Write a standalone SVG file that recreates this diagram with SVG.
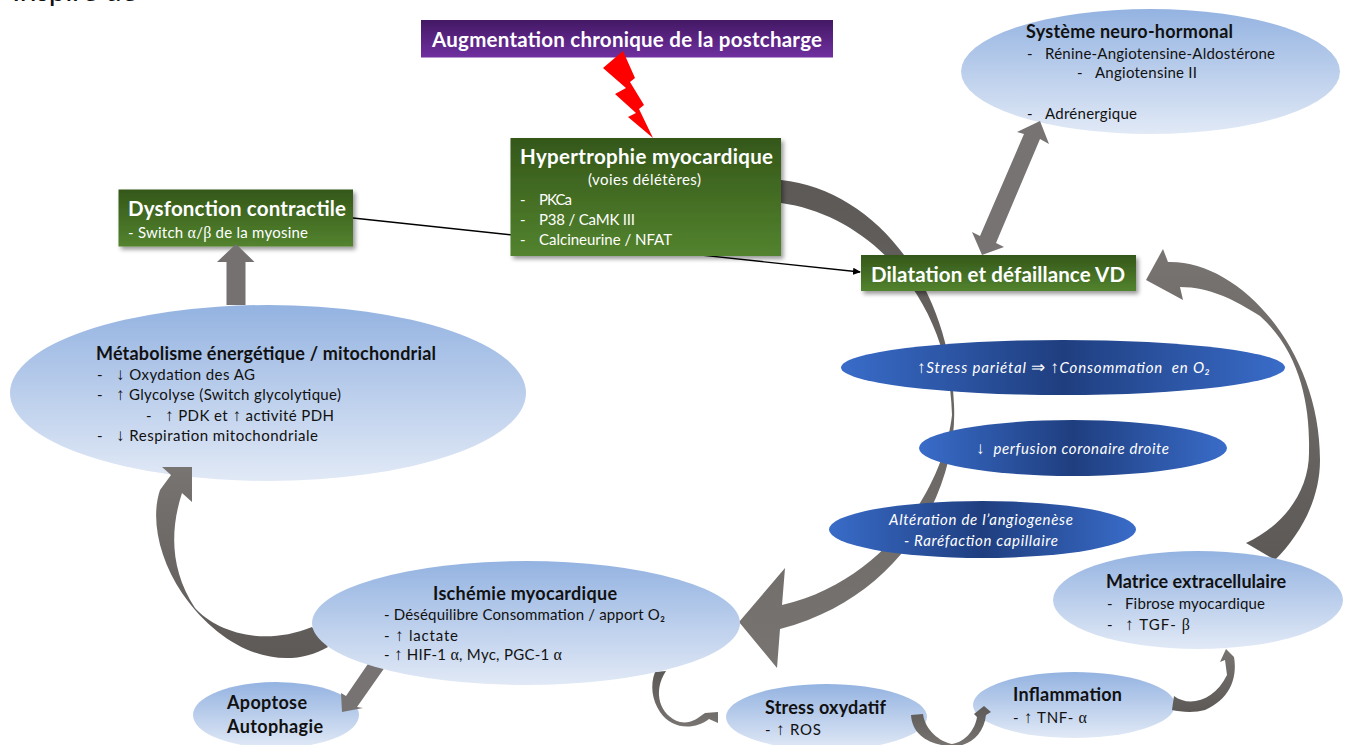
<svg xmlns="http://www.w3.org/2000/svg" width="1348" height="745" viewBox="0 0 1348 745">
<style>
text{font-family:Lato,"Open Sans","DejaVu Sans",sans-serif;font-size:15px;fill:#111;white-space:pre}
.w{fill:#fff}.t{font-weight:700;font-size:18px}.bt{font-weight:700;font-size:20.5px;fill:#fff}
.i{font-style:italic;fill:#fff}.s{font-family:"Liberation Serif",serif;font-size:16px}.a{font-family:"Liberation Serif",serif;font-size:17px;font-weight:400}
.ia{font-style:normal;fill:#fff}
.box{filter:url(#sh)}.grey{fill:url(#gy)}.greyup{fill:url(#gu)}
</style>
<defs>
<linearGradient id="lb" x1="0" y1="0" x2="0" y2="1"><stop offset="0" stop-color="#94b3e1"/><stop offset="1" stop-color="#e1e9f6"/></linearGradient>
<linearGradient id="db" x1="0" y1="0" x2="1" y2="0"><stop offset="0" stop-color="#396cc9"/><stop offset=".5" stop-color="#1f3e7f"/><stop offset="1" stop-color="#396cc9"/></linearGradient>
<linearGradient id="gn" x1="0" y1="0" x2="0" y2="1"><stop offset="0" stop-color="#345719"/><stop offset="1" stop-color="#53832e"/></linearGradient>
<linearGradient id="pu" x1="0" y1="0" x2="0" y2="1"><stop offset="0" stop-color="#431864"/><stop offset="1" stop-color="#7030a0"/></linearGradient>
<linearGradient id="gy" x1="0" y1="0" x2="0" y2="1"><stop offset="0" stop-color="#5d5957"/><stop offset="1" stop-color="#787472"/></linearGradient>
<linearGradient id="gu" x1="0" y1="0" x2="0" y2="1"><stop offset="0" stop-color="#787472"/><stop offset="1" stop-color="#5d5957"/></linearGradient>
<filter id="sh" x="-10%" y="-10%" width="125%" height="130%"><feDropShadow dx="2.5" dy="3" stdDeviation="2" flood-color="#000" flood-opacity=".4"/></filter>
<marker id="ah" markerWidth="8" markerHeight="7" refX="7" refY="3.5" orient="auto" markerUnits="userSpaceOnUse"><path d="M0 0L8 3.5L0 7Z" fill="#000"/></marker>
</defs>
<rect width="1348" height="745" fill="#fff"/>
<text x="12" y="1" style="font-size:30px" fill="#222" textLength="125">Inspiré de</text>

<g id="n-metabolisme"><ellipse cx="268" cy="393" rx="258" ry="88" fill="url(#lb)"/>
<text class="t" x="96" y="360" textLength="340">Métabolisme énergétique / mitochondrial</text>
<text x="97" y="380">-</text><text x="116" y="380" textLength="139"><tspan class="a">↓</tspan> Oxydation des AG</text>
<text x="97" y="400">-</text><text x="116" y="400" textLength="225"><tspan class="a">↑</tspan> Glycolyse (Switch glycolytique)</text>
<text x="146" y="421">-</text><text x="165" y="421" textLength="169"><tspan class="a">↑</tspan> PDK et <tspan class="a">↑</tspan> activité PDH</text>
<text x="97" y="441">-</text><text x="116" y="441" textLength="202"><tspan class="a">↓</tspan> Respiration mitochondriale</text></g>

<g id="n-systeme"><ellipse cx="1150.5" cy="71.5" rx="189.5" ry="62.5" fill="url(#lb)"/>
<text class="t" x="1026" y="38" textLength="207">Système neuro-hormonal</text>
<text x="1027" y="59">-</text><text x="1045" y="59" textLength="230">Rénine-Angiotensine-Aldostérone</text>
<text x="1077" y="78">-</text><text x="1095" y="78" textLength="102">Angiotensine II</text>
<text x="1027" y="119">-</text><text x="1045" y="119" textLength="92">Adrénergique</text></g>

<g id="n-augmentation"><rect x="421" y="20" width="412" height="37.5" fill="url(#pu)"/>
<text class="bt" x="432" y="47" textLength="390">Augmentation chronique de la postcharge</text></g>

<g id="n-dysfonction"><rect class="box" x="118.5" y="189.5" width="234.5" height="57" fill="url(#gn)"/>
<text class="bt" x="128" y="215.7" textLength="218">Dysfonction contractile</text>
<text class="w" x="128" y="238" textLength="180">- Switch <tspan class="s">α</tspan>/<tspan class="s">β</tspan> de la myosine</text></g>

<g id="n-apoptose"><ellipse cx="276" cy="715" rx="83" ry="33" fill="url(#lb)"/>
<text class="t" x="227" y="709" textLength="80">Apoptose</text><text class="t" x="227" y="733" textLength="96">Autophagie</text></g>

<g id="n-stress"><ellipse cx="826.5" cy="717" rx="100.5" ry="33" fill="url(#lb)"/>
<text class="t" x="765" y="714" textLength="121">Stress oxydatif</text>
<text x="765" y="735" textLength="56">- <tspan class="a">↑</tspan> ROS</text></g>

<g id="n-inflammation"><ellipse cx="1074" cy="705" rx="101" ry="33" fill="url(#lb)"/>
<text class="t" x="1013" y="701" textLength="109">Inflammation</text>
<text x="1013" y="723" textLength="74">- <tspan class="a">↑</tspan> TNF- <tspan class="s">α</tspan></text></g>

<g id="connectors">
<path class="grey" d="M781 180C875 190 950 285 954 405C958 480 910 595 780 629L777 668L739 622L785 568L782 605C890 580 945 480 952 415C950 300 870 215 781 203Z"/>
<path class="greyup" d="M1168 262L1163 249L1146 280L1183 300L1180 287C1210 287 1235 300 1260 316C1300 352 1310 405 1309 450C1310 490 1285 525 1246 543L1275 560C1300 535 1320 500 1320 460C1320 350 1240 260 1168 262Z"/>
<path class="greyup" d="M162 467L192 467L192 502L182 493C170 530 170 570 195 608C215 630 260 648 312 627L328 647C285 672 225 655 182 593C160 560 150 520 160 490L171 475Z"/>
<polygon fill="#747170" points="226.5,305 245.5,305 245.5,262 254.5,262 236,244 217,262 226.5,262"/>
<polygon fill="#777372" points="1040,121 1017,132 1024,134 980,236 972,232 982,255 1004,247 996,243 1040,139 1049,144"/>
<polygon fill="#777372" points="372,658 390,660 357,707 363,708 342,712 341,693 346,696"/>
<path class="grey" d="M655 672L666 671C652 692 660 716 680 722C690 724 697 719 705 713L718 712L718 723L709 719C695 730 672 730 660 712C652 700 650 685 655 672Z"/>
<path class="grey" d="M911 715L923 714C925 730 940 742 952 744C965 742 975 730 977 717L974 714L984 706L991 712L986 715C984 735 968 748 950 746C930 745 912 735 911 715Z"/>
<path class="greyup" d="M1174 696C1190 708 1215 700 1227 675L1225 660L1220 662L1226 649L1234 657C1238 680 1228 700 1205 710C1195 713 1180 712 1172 710Z"/>
<polygon fill="#ff0000" points="623,51 635,78 630,82 644,105 639,109 653,138 628,117 636,113 615,94 626,88 603,68"/>
<line x1="353" y1="218" x2="860" y2="272" stroke="#000" stroke-width="1.3" marker-end="url(#ah)"/>
</g>

<g id="n-hypertrophie"><rect class="box" x="510.5" y="138" width="270.5" height="118" fill="url(#gn)"/>
<text class="bt" x="520" y="163.7" textLength="253">Hypertrophie myocardique</text>
<text class="w" x="588" y="185" textLength="113">(voies délétères)</text>
<text class="w" x="520" y="205">-</text><text class="w" x="539" y="205" textLength="33">PKCa</text>
<text class="w" x="520" y="225">-</text><text class="w" x="539" y="225" textLength="96">P38 / CaMK III</text>
<text class="w" x="520" y="245">-</text><text class="w" x="539" y="245" textLength="133">Calcineurine / NFAT</text></g>

<g id="n-dilatation"><rect class="box" x="861" y="255" width="275" height="36" fill="url(#gn)"/>
<text class="bt" x="871" y="281.7" textLength="254">Dilatation et défaillance VD</text></g>

<g id="n-parietal"><ellipse cx="1063" cy="367.5" rx="222" ry="27.5" fill="url(#db)"/>
<text class="i" x="917" y="373" textLength="293"><tspan class="a ia">↑</tspan>Stress pariétal <tspan class="a ia">⇒</tspan> <tspan class="a ia">↑</tspan>Consommation  en O₂</text></g>

<g id="n-perfusion"><ellipse cx="1073" cy="448" rx="154" ry="28" fill="url(#db)"/>
<text class="i" x="976" y="454" textLength="193"><tspan class="a ia">↓</tspan>  perfusion coronaire droite</text></g>

<g id="n-angiogenese"><ellipse cx="982.5" cy="529.5" rx="153.5" ry="28.5" fill="url(#db)"/>
<text class="i" x="889" y="525" textLength="184">Altération de l’angiogenèse</text>
<text class="i" x="904" y="546" textLength="154">- Raréfaction capillaire</text></g>

<g id="n-matrice"><ellipse cx="1198" cy="600" rx="145" ry="49" fill="url(#lb)"/>
<text class="t" x="1106" y="588" textLength="180">Matrice extracellulaire</text>
<text x="1107" y="609">-</text><text x="1125" y="609" textLength="140">Fibrose myocardique</text>
<text x="1107" y="630">-</text><text x="1125" y="630" textLength="65"><tspan class="a">↑</tspan> TGF- <tspan class="s">β</tspan></text></g>

<g id="n-ischemie"><ellipse cx="526" cy="623" rx="214" ry="62" fill="url(#lb)"/>
<text class="t" x="433" y="600" textLength="184">Ischémie myocardique</text>
<text x="384" y="620" textLength="281">- Déséquilibre Consommation / apport O₂</text>
<text x="384" y="641" textLength="74">- <tspan class="a">↑</tspan> lactate</text>
<text x="384" y="660" textLength="178">- <tspan class="a">↑</tspan> HIF-1 <tspan class="s">α</tspan>, Myc, PGC-1 <tspan class="s">α</tspan></text></g>
</svg>
